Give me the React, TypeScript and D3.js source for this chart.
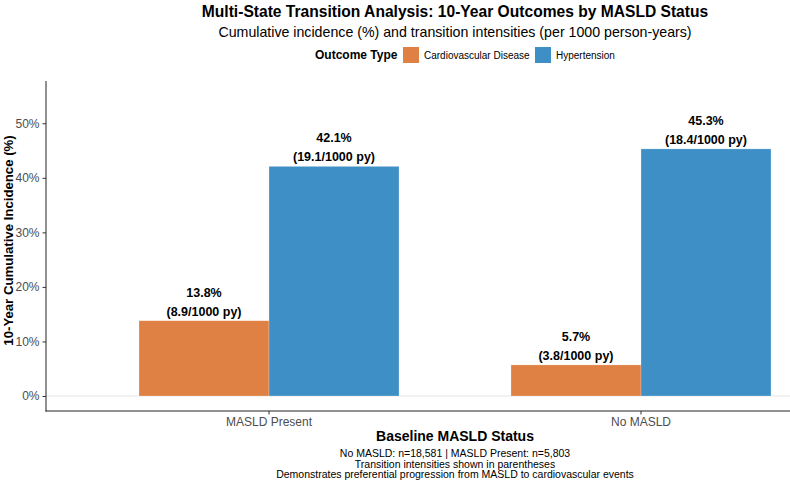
import React, { useEffect, useRef } from 'react';
import * as d3 from 'd3';

const groups = ['MASLD Present', 'No MASLD'];
const outcomes = ['Cardiovascular Disease', 'Hypertension'];
// cumulative incidence (%) per group, per outcome
const cvdIncidence = [13.8, 5.7];
const htnIncidence = [42.1, 45.3];
// transition intensities per 1000 person-years
const cvdRate = [8.9, 3.8];
const htnRate = [19.1, 18.4];
const yTicks = [0, 10, 20, 30, 40, 50];
const captionLines = [
  'No MASLD: n=18,581 | MASLD Present: n=5,803',
  'Transition intensities shown in parentheses',
  'Demonstrates preferential progression from MASLD to cardiovascular events',
];

const colors = ['#DF8044', '#3D8FC6'];

const App = () => {
  const svgRef = useRef<SVGSVGElement>(null);
  const width = 790;
  const height = 484;

  useEffect(() => {
    const svg = d3.select(svgRef.current);
    svg.selectAll('*').remove();
    const font = '"Liberation Sans", Arial, Helvetica, sans-serif';

    const left = 46, right = 864, top = 81, bottom = 411;
    const cx = (left + right) / 2;

    const x = d3.scaleBand().domain(groups).range([left, right]).paddingInner(0.301).paddingOuter(0.25);
    const xSub = d3.scaleBand().domain(outcomes).range([0, x.bandwidth()]);
    const y = d3.scaleLinear().domain([-2.75, 57.75]).range([bottom, top]);

    const rows = groups.flatMap((g, i) => [
      { group: g, outcome: outcomes[0], value: cvdIncidence[i], rate: cvdRate[i] },
      { group: g, outcome: outcomes[1], value: htnIncidence[i], rate: htnRate[i] },
    ]);

    // zero reference line
    svg.append('line')
      .attr('x1', left).attr('x2', right)
      .attr('y1', y(0)).attr('y2', y(0))
      .attr('stroke', '#e5e5e5').attr('stroke-width', 1);

    svg.append('g').selectAll('rect')
      .data(rows)
      .enter()
      .append('rect')
      .attr('x', d => x(d.group)! + xSub(d.outcome)!)
      .attr('width', xSub.bandwidth())
      .attr('y', d => y(d.value))
      .attr('height', d => y(0) - y(d.value))
      .attr('fill', d => colors[outcomes.indexOf(d.outcome)])
      .attr('stroke', 'rgba(255,255,255,0.4)')
      .attr('stroke-width', 0.6);

    const labels = svg.append('g').selectAll('g')
      .data(rows)
      .enter()
      .append('text')
      .attr('x', d => x(d.group)! + xSub(d.outcome)! + xSub.bandwidth() / 2)
      .attr('y', d => y(d.value) - 24)
      .attr('text-anchor', 'middle')
      .style('font-family', font)
      .style('font-size', '12.5px')
      .style('font-weight', 'bold')
      .attr('fill', '#000');
    labels.append('tspan').text(d => `${d.value.toFixed(1)}%`);
    labels.append('tspan')
      .attr('x', d => x(d.group)! + xSub(d.outcome)! + xSub.bandwidth() / 2)
      .attr('dy', 19)
      .text(d => `(${d.rate.toFixed(1)}/1000 py)`);

    // y axis
    const yAxis = svg.append('g')
      .attr('transform', `translate(${left},0)`)
      .call(d3.axisLeft(y).tickValues(yTicks).tickSize(3.5).tickPadding(3).tickFormat(d => `${d}%`));
    yAxis.select('.domain').attr('d', `M0,${top}V${bottom + 0.5}`).attr('stroke', '#222');
    yAxis.selectAll('.tick line').attr('stroke', '#333');
    yAxis.selectAll('.tick text')
      .style('font-family', font).style('font-size', '12px').attr('fill', '#4D4D4D');

    // x axis
    const xAxis = svg.append('g')
      .attr('transform', `translate(0,${bottom})`)
      .call(d3.axisBottom(x).tickSize(3.5).tickPadding(3));
    xAxis.select('.domain').attr('d', `M${left - 0.5},0H${right}`).attr('stroke', '#222');
    xAxis.selectAll('.tick line').attr('stroke', '#333');
    xAxis.selectAll('.tick text')
      .style('font-family', font).style('font-size', '12px').attr('fill', '#4D4D4D');

    // axis titles
    svg.append('text')
      .attr('transform', 'translate(13,240.5) rotate(-90)')
      .attr('text-anchor', 'middle')
      .style('font-family', font).style('font-size', '13.2px').style('font-weight', 'bold')
      .text('10-Year Cumulative Incidence (%)');
    svg.append('text')
      .attr('x', cx).attr('y', 441)
      .attr('text-anchor', 'middle')
      .style('font-family', font).style('font-size', '14px').style('font-weight', 'bold')
      .text('Baseline MASLD Status');

    svg.append('g').selectAll('text')
      .data(captionLines)
      .enter()
      .append('text')
      .attr('x', cx)
      .attr('y', (d, i) => 457 + i * 10.6)
      .attr('text-anchor', 'middle')
      .style('font-family', font).style('font-size', '10.5px')
      .text(d => d);

    // titles
    svg.append('text')
      .attr('x', cx).attr('y', 17)
      .attr('text-anchor', 'middle')
      .style('font-family', font).style('font-size', '15.6px').style('font-weight', 'bold')
      .text('Multi-State Transition Analysis: 10-Year Outcomes by MASLD Status');
    svg.append('text')
      .attr('x', cx).attr('y', 37)
      .attr('text-anchor', 'middle')
      .style('font-family', font).style('font-size', '14.2px')
      .text('Cumulative incidence (%) and transition intensities (per 1000 person-years)');

    // legend
    const legend = svg.append('g').attr('transform', 'translate(315,0)');
    legend.append('text')
      .attr('x', 0).attr('y', 59)
      .style('font-family', font).style('font-size', '12px').style('font-weight', 'bold')
      .text('Outcome Type');
    const keyX = [88, 220];
    outcomes.forEach((o, i) => {
      legend.append('rect')
        .attr('x', keyX[i]).attr('y', 47).attr('width', 16).attr('height', 16)
        .attr('fill', colors[i]);
      legend.append('text')
        .attr('x', keyX[i] + 21).attr('y', 58.5)
        .style('font-family', font).style('font-size', '10px')
        .text(o);
    });
  }, []);

  return (
    <svg ref={svgRef} width={width} height={height}
      style={{ position: 'absolute', left: 0, top: 0, background: '#fff' }} />
  );
};

export default App;
